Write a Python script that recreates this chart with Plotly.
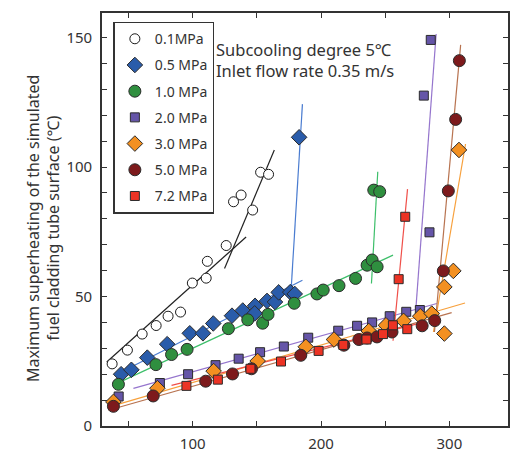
import plotly.graph_objects as go

FONT = "Noto Sans, Noto Sans CJK JP, sans-serif"

# ---- data ----
names = ["0.1MPa", "0.5 MPa", "1.0 MPa", "2.0 MPa", "3.0 MPa", "5.0 MPa", "7.2 MPa"]

p01_x = [37.2, 49.1, 60.6, 71.5, 80.8, 90.5, 99.7, 110.5, 111.4, 126.1, 131.8, 137.7, 146.7, 152.9, 159.1]
p01_y = [24.0, 29.3, 35.5, 38.8, 42.4, 44.0, 55.2, 57.1, 63.6, 69.7, 86.6, 89.2, 83.4, 98.0, 97.2]

p05_x = [44.2, 52.2, 64.6, 80.1, 97.7, 108.0, 116.0, 130.6, 139.0, 148.6, 148.3, 157.9, 164.1, 167.0, 176.0, 179.5, 182.9]
p05_y = [20.0, 21.7, 26.4, 31.6, 35.8, 35.8, 39.6, 42.6, 44.6, 46.4, 43.5, 48.3, 47.9, 51.6, 51.7, 51.0, 111.5]

p10_x = [42.1, 71.3, 83.5, 95.6, 127.8, 142.9, 154.5, 158.7, 179.1, 196.8, 201.7, 214.0, 226.9, 235.9, 239.8, 243.7, 241.1, 245.7]
p10_y = [16.1, 23.7, 27.6, 29.6, 37.6, 41.0, 39.7, 43.1, 47.4, 51.0, 52.5, 54.2, 57.0, 62.1, 64.1, 61.5, 91.1, 90.5]

p20_x = [42.3, 74.4, 96.4, 117.8, 135.8, 152.5, 171.0, 190.0, 213.4, 228.1, 239.8, 253.5, 266.4, 277.0, 284.5, 280.1, 285.5]
p20_y = [11.4, 16.6, 20.0, 23.5, 26.0, 28.5, 30.7, 34.1, 36.8, 38.7, 40.0, 42.4, 44.1, 44.8, 74.8, 127.6, 149.1]

p30_x = [38.2, 72.5, 116.3, 150.6, 188.1, 210.1, 237.2, 250.6, 264.3, 277.3, 286.3, 296.1, 296.1, 303.1, 307.5]
p30_y = [9.3, 14.6, 21.2, 25.1, 30.6, 33.4, 36.7, 38.9, 40.6, 42.4, 43.4, 35.7, 53.7, 59.9, 106.6]

p50_x = [38.2, 69.2, 110.1, 131.0, 145.8, 184.2, 217.8, 229.5, 235.9, 243.6, 255.3, 278.8, 288.6, 295.3, 299.2, 304.9, 307.8]
p50_y = [7.6, 11.6, 17.3, 20.1, 22.1, 27.3, 31.2, 33.4, 34.0, 34.4, 36.3, 38.7, 40.7, 59.9, 90.8, 118.4, 141.1]

p72_x = [95.1, 119.6, 145.0, 168.8, 198.1, 217.4, 235.4, 248.3, 256.0, 267.2, 260.5, 265.6]
p72_y = [15.5, 17.9, 22.1, 24.9, 29.0, 31.3, 33.4, 35.5, 38.9, 37.4, 56.7, 80.8]

# fitted trend-line end points (two segments per pressure)
fit01a_x, fit01a_y = [33.0, 141.6], [24.7, 73.0]
fit01b_x, fit01b_y = [124.8, 163.6], [60.8, 106.6]
fit05a_x, fit05a_y = [40.9, 185.5], [20.0, 56.3]
fit05b_x, fit05b_y = [176.8, 185.5], [53.6, 124.3]
fit10a_x, fit10a_y = [37.7, 256.1], [15.7, 66.0]
fit10b_x, fit10b_y = [239.3, 244.2], [55.0, 98.2]
fit20a_x, fit20a_y = [53.8, 290.2], [14.5, 47.3]
fit20b_x, fit20b_y = [274.0, 289.7], [46.0, 151.4]
fit30a_x, fit30a_y = [34.3, 312.2], [7.3, 47.5]
fit30b_x, fit30b_y = [287.6, 312.6], [36.3, 108.9]
fit50a_x, fit50a_y = [34.3, 301.8], [6.1, 43.8]
fit50b_x, fit50b_y = [288.4, 308.8], [36.3, 147.2]
fit72a_x, fit72a_y = [83.5, 281.2], [15.7, 40.2]
fit72b_x, fit72b_y = [256.1, 267.4], [32.9, 91.5]

x_tickvals = [50, 100, 150, 200, 250, 300]
x_ticktext = ["", "100", "", "200", "", "300"]
y_tickvals = list(range(0, 160, 10))
y_ticktext = ["0" if v == 0 else (str(v) if v % 50 == 0 else "") for v in y_tickvals]

# ---- styling ----
series = [
    (p01_x, p01_y, "circle", "white", 10, "#1a1a1a",
     [(fit01a_x, fit01a_y), (fit01b_x, fit01b_y)], "#222222"),
    (p05_x, p05_y, "diamond", "#2a5caa", 12, "#2b2b2b",
     [(fit05a_x, fit05a_y), (fit05b_x, fit05b_y)], "#4a7cd0"),
    (p10_x, p10_y, "circle", "#2f8f3f", 12, "#2b2b2b",
     [(fit10a_x, fit10a_y), (fit10b_x, fit10b_y)], "#3dbf6a"),
    (p20_x, p20_y, "square", "#6555a8", 9, "#2b2b2b",
     [(fit20a_x, fit20a_y), (fit20b_x, fit20b_y)], "#9575cd"),
    (p30_x, p30_y, "diamond", "#f39021", 12, "#2b2b2b",
     [(fit30a_x, fit30a_y), (fit30b_x, fit30b_y)], "#f7a03c"),
    (p50_x, p50_y, "circle", "#7d1a1c", 12, "#2b2b2b",
     [(fit50a_x, fit50a_y), (fit50b_x, fit50b_y)], "#b87350"),
    (p72_x, p72_y, "square", "#ec3324", 9, "#2b2b2b",
     [(fit72a_x, fit72a_y), (fit72b_x, fit72b_y)], "#f0504a"),
]

fig = go.Figure()

for i, s in enumerate(series):
    for fx, fy in s[6]:
        fig.add_trace(go.Scatter(x=fx, y=fy, mode="lines",
                                 line=dict(color=s[7], width=1.2),
                                 showlegend=False, hoverinfo="skip"))

for i, s in enumerate(series):
    fig.add_trace(go.Scatter(
        x=s[0], y=s[1], mode="markers", name=names[i], legendgroup=f"g{i}",
        marker=dict(symbol=s[2], color=s[3], size=s[4],
                    line=dict(color=s[5], width=1)),
    ))

axis_common = dict(showline=True, linecolor="#333333", linewidth=1.6,
                   ticks="inside", ticklen=5, tickwidth=1.3, tickcolor="#333333",
                   mirror="ticks", showgrid=False, zeroline=False,
                   tickfont=dict(family=FONT, size=15, color="#333333"))

fig.update_xaxes(range=[29.3, 345.7], tickmode="array", tickvals=x_tickvals,
                 ticktext=x_ticktext, ticklabelstandoff=3, **axis_common)
fig.update_yaxes(range=[0, 159.5], tickmode="array", tickvals=y_tickvals,
                 ticktext=y_ticktext, ticklabelstandoff=5, **axis_common)

fig.add_annotation(text="Maximum superheating of the simulated<br>fuel cladding tube surface (℃)",
                   xref="paper", yref="paper", x=-0.146, y=0.479, textangle=-90,
                   showarrow=False, xanchor="center", yanchor="middle",
                   font=dict(family=FONT, size=16, color="#333333"))
fig.add_annotation(text="Subcooling degree 5℃<br>Inlet flow rate 0.35 m/s",
                   xref="paper", yref="paper", align="left",
                   x=0.277, y=0.886, xanchor="left", yanchor="middle", showarrow=False,
                   font=dict(family=FONT, size=16.5, color="#333333"))

fig.update_layout(
    width=510, height=453,
    margin=dict(l=102, r=0, t=13, b=27),
    plot_bgcolor="white", paper_bgcolor="white",
    legend=dict(x=0.028, y=0.979, xanchor="left", yanchor="top",
                bordercolor="#333333", borderwidth=1.5, bgcolor="white",
                font=dict(family=FONT, size=14, color="#333333"),
                tracegroupgap=5, traceorder="grouped"),
)

fig.write_html("out.html", config={"displayModeBar": False},
               post_script="document.body.style.margin='0';")
